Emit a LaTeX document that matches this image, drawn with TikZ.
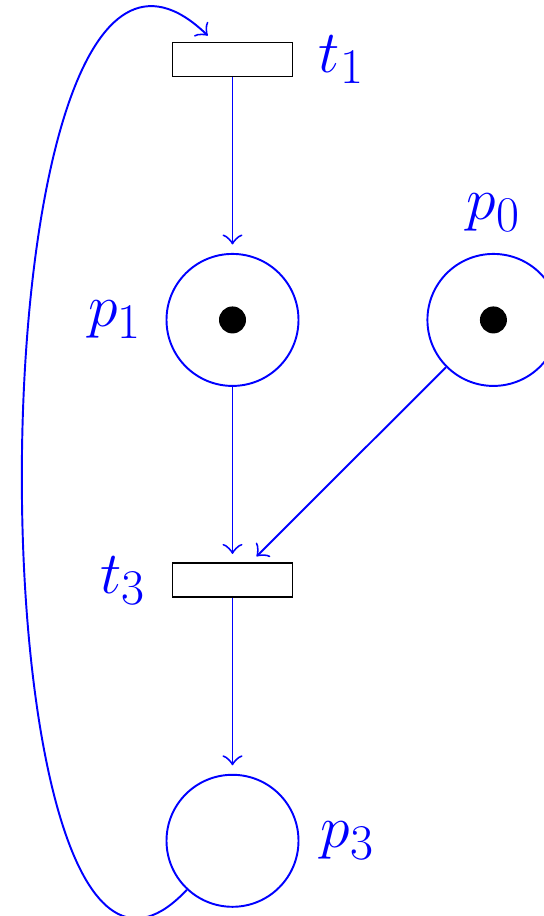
\documentclass[tikz,border=0pt]{standalone}
\usetikzlibrary{arrows.meta, positioning}

\begin{document}
\begin{tikzpicture}[node distance=3.51cm]

\tikzset{
  place/.style={circle, draw=blue, line width=1.1pt, fill=white,
    minimum size=2.64cm, inner sep=0pt},
  transition/.style={rectangle, draw=black, line width=1.1pt, fill=white,
    minimum width=2.4cm, minimum height=0.68cm, inner sep=0pt},
  token/.style={circle, fill=black, inner sep=0pt, minimum size=0.54cm},
  lbl/.style={text=blue, inner sep=0pt, font=\Huge, scale=1.37, transform shape},
  arc/.style={->, >={Classical TikZ Rightarrow[width=0.4cm, length=0.2cm]},
    draw=blue, line width=1.1pt, shorten >=0.17cm}
}

\useasboundingbox (0,0) rectangle (10.88,18.32);

\node[transition] (t1) at (4.65,17.13) {};
\node[place, below=of t1] (p1) {};
\node[place, right=2.54cm of p1] (p0) {};
\node[transition, below=of p1] (t3) {};
\node[place, below=of t3] (p3) {};

\node[token] (k1) at (p1) {};
\node[token] (k0) at (p0) {};

\node[lbl, right=0.5cm of t1]  (t1lbl) {$t_1$};
\node[lbl, left=0.46cm of p1]  (p1lbl) {$p_1$};
\node[lbl, above=0.42cm of p0] (p0lbl) {$p_0$};
\node[lbl, left=0.5cm of t3]   (t3lbl) {$t_3$};
\node[lbl, right=0.42cm of p3] (p3lbl) {$p_3$};

\draw[arc] (t1) -- (p1);
\draw[arc] (p1) -- (t3);
\draw[arc] (p0) -- (t3);
\draw[arc] (t3) -- (p3);
\draw[arc] (p3) to[out=227, in=136, out distance=6.5cm, in distance=7cm] (t1);

\end{tikzpicture}
\end{document}
